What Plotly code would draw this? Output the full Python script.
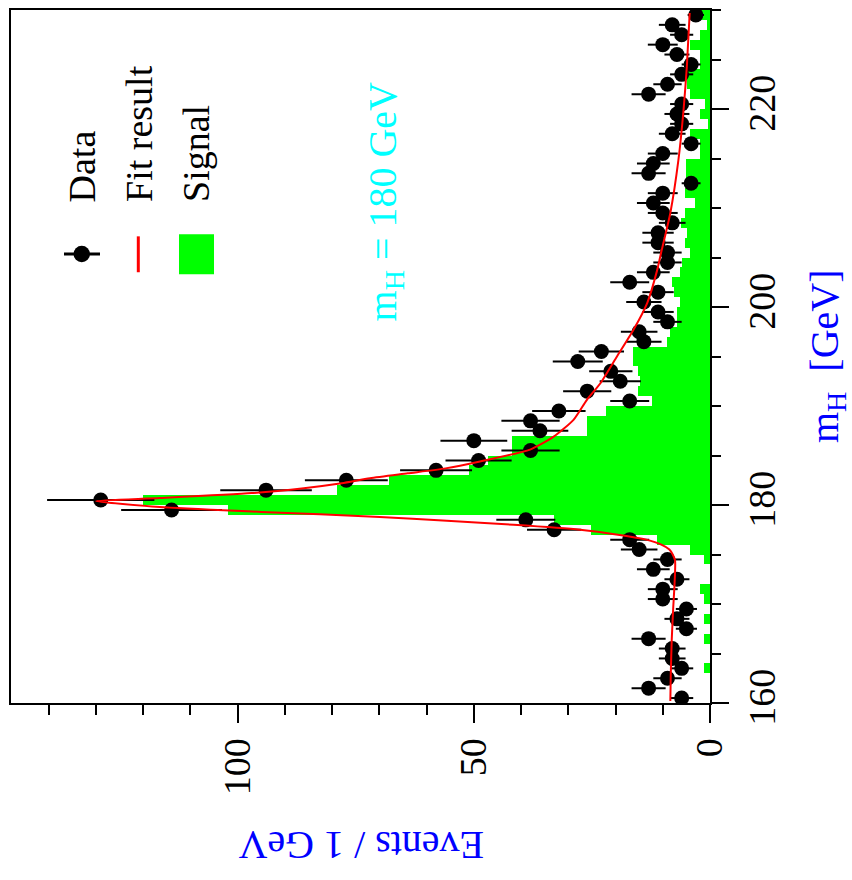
import numpy as np
import plotly.graph_objects as go

# ---------------- data ----------------
bin_centers = [160.5 + i for i in range(70)]

data_counts = [6, 13, 9, 6, 8, 8, 13, 5, 7, 5,
               10, 10, 7, 12, 9, 15, 17, 33, 39, 114,
               129, 94, 77, 58, 49, 38, 50, 36, 38, 32,
               17, 26, 19, 21, 28, 23, 14, 15, 9, 11,
               14, 11, 17, 12, 9, 9, 11, 11, 8, 10,
               12, 10, 4, 13, 12, 10, 4, 8, 6, 7,
               6, 13, 9, 6, 4, 7, 10, 6, 8, 3]

signal_counts = [0, 0, 0, 1.2, 0, 0, 1.2, 0, 1.2, 0,
                 1.2, 2.2, 0, 0, 1.2, 4.2, 11.2, 25.3, 33, 102,
                 120, 79, 68, 51, 47, 42, 42, 26, 26, 22,
                 12.3, 15.2, 14.8, 15.2, 16.2, 16.2, 9.1, 8.5, 7.0, 7.0,
                 6.3, 7.6, 8.1, 6.3, 6.0, 4.2, 5.2, 4.9, 6.1, 5.2,
                 3.1, 5.2, 5.0, 5.0, 5.0, 2.2, 2.2, 4.2, 0.5, 2.2,
                 1.0, 4.2, 4.9, 4.9, 2.2, 2.2, 4.2, 2.2, 0.7, 3.1]

fit_mh = [160.2, 163.0, 166.4, 169.5, 172.1, 174.4, 175.0, 175.5, 176.0, 176.5,
          177.0, 177.5, 178.0, 178.4, 178.8, 179.3, 179.8, 180.4, 180.7, 181.2,
          181.7, 182.2, 182.7, 183.2, 183.7, 184.4, 185.6, 186.9, 188.6, 190.6,
          192.3, 195.0, 197.7, 200.4, 203.7, 205.8, 209.5, 214.8, 219.9, 224.3, 229.7]
fit_ev = [8.4, 8.3, 8.1, 7.8, 7.5, 7.4, 7.9, 8.6, 10.3, 13.5,
          19.5, 27.5, 41.6, 55.7, 69.9, 95, 116.5, 130, 116.5, 97,
          86, 78, 72, 64, 56, 48.7, 38.1, 33.1, 28.9, 26.1,
          23.2, 19.7, 16.2, 13.3, 11.2, 10.2, 8.4, 6.7, 5.6, 4.9, 4.3]

events_ticks = [0, 50, 100]
mh_ticks = [160, 180, 200, 220]

# ---------------- layout helpers ----------------
W, H = 852, 880
L, R, T, B = 11, 142, 8, 177
PW, PH = W - L - R, H - T - B

def px(x):
    return (x - L) / PW

def py(y):
    return (H - B - y) / PH

FONT = "Liberation Serif, Times New Roman, serif"

fig = go.Figure()

fig.add_trace(go.Bar(
    y=bin_centers, x=signal_counts, orientation="h", width=1.0,
    marker=dict(color="#00FF00", line=dict(width=0)),
    showlegend=False, name="Signal"))

fig.add_trace(go.Scatter(
    y=bin_centers, x=data_counts, mode="markers",
    marker=dict(color="black", size=15),
    error_x=dict(type="data", array=list(np.sqrt(data_counts)),
                 color="black", thickness=2, width=0),
    showlegend=False, name="Data"))

fig.add_trace(go.Scatter(
    y=fit_mh, x=fit_ev, mode="lines",
    line=dict(color="#FF0000", width=2, shape="spline", smoothing=0.6),
    showlegend=False, name="Fit result"))

axis_common = dict(
    showline=True, linecolor="black", linewidth=2, mirror=True,
    showgrid=False, zeroline=False, ticks="outside", tickcolor="black",
    tickwidth=2, tickfont=dict(family=FONT, size=38, color="black"),
    tickangle=-90,
)

fig.update_layout(
    width=W, height=H,
    margin=dict(l=L, r=R, t=T, b=B, pad=0),
    paper_bgcolor="white", plot_bgcolor="white",
    bargap=0,
    xaxis=dict(range=[148, 0], tickvals=events_ticks, ticklen=18,
               minor=dict(dtick=10, tick0=0, ticklen=10, tickwidth=2,
                          tickcolor="black", ticks="outside"),
               **axis_common),
    yaxis=dict(range=[160, 230], side="right", tickvals=mh_ticks, ticklen=17,
               minor=dict(dtick=5, tick0=160, ticklen=9, tickwidth=2,
                          tickcolor="black", ticks="outside"),
               **axis_common),
    showlegend=False,
)

ann = []
# axis titles
ann.append(dict(text="Events / 1 GeV", x=px(361), y=py(846), xref="paper", yref="paper",
                textangle=180, showarrow=False, xanchor="center", yanchor="middle",
                font=dict(family=FONT, size=40, color="#0000FF")))
ann.append(dict(text="m<sub>H</sub>  [GeV]", x=px(827), y=py(355), xref="paper", yref="paper",
                textangle=-90, showarrow=False, xanchor="center", yanchor="middle",
                font=dict(family=FONT, size=40, color="#0000FF")))
# mass label
ann.append(dict(text="m<sub>H</sub> = 180 GeV", x=px(385), y=py(200), xref="paper", yref="paper",
                textangle=-90, showarrow=False, xanchor="center", yanchor="middle",
                font=dict(family=FONT, size=40, color="#00FFFF")))
# legend texts
for txt, xc in [("Data", 82), ("Fit result", 139), ("Signal", 196)]:
    ann.append(dict(text=txt, x=px(xc), y=py(203), xref="paper", yref="paper",
                    textangle=-90, showarrow=False, xanchor="center", yanchor="bottom",
                    font=dict(family=FONT, size=38, color="black")))
fig.update_layout(annotations=ann)

shapes = []
# Data legend key
shapes.append(dict(type="line", xref="paper", yref="paper",
                   x0=px(64), x1=px(100), y0=py(252.7), y1=py(252.7),
                   line=dict(color="black", width=3)))
shapes.append(dict(type="circle", xref="paper", yref="paper",
                   x0=px(73.5), x1=px(90), y0=py(261), y1=py(244.5),
                   fillcolor="black", line=dict(color="black", width=0)))
# Fit legend key
shapes.append(dict(type="line", xref="paper", yref="paper",
                   x0=px(138.3), x1=px(138.3), y0=py(235), y1=py(271),
                   line=dict(color="#FF0000", width=3)))
# Signal legend key
shapes.append(dict(type="rect", xref="paper", yref="paper",
                   x0=px(179), x1=px(214), y0=py(273), y1=py(233),
                   fillcolor="#00FF00", line=dict(width=0)))
fig.update_layout(shapes=shapes)

fig.write_html("out.html")
